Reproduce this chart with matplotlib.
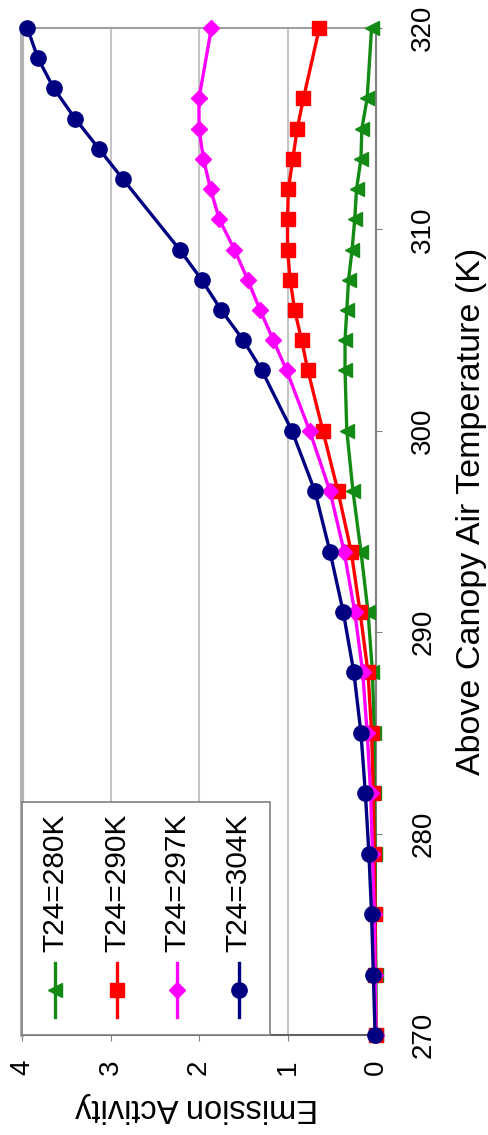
import matplotlib
matplotlib.use("Agg")
import matplotlib.pyplot as plt
from matplotlib.patches import Rectangle

plt.rcParams['font.family'] = ['Liberation Sans', 'DejaVu Sans']

# air temperature (K) for the T24 runs
temp = [270, 273, 276, 279, 282, 285, 288, 291, 294, 297, 300, 303,
        304.5, 306, 307.5, 309, 310.5, 312, 313.5, 315, 316.5, 320]
temp_304 = [270, 273, 276, 279, 282, 285, 288, 291, 294, 297, 300, 303,
            304.5, 306, 307.5, 309, 312.5, 314, 315.5, 317, 318.5, 320]

act_280 = [0.0, 0.0, 0.01, 0.01, 0.02, 0.02, 0.04, 0.09, 0.17, 0.26, 0.33, 0.35,
           0.35, 0.33, 0.31, 0.27, 0.24, 0.22, 0.17, 0.16, 0.10, 0.05]
act_290 = [0.0, 0.01, 0.01, 0.02, 0.03, 0.05, 0.09, 0.18, 0.28, 0.43, 0.60, 0.77,
           0.84, 0.92, 0.97, 1.0, 1.0, 0.99, 0.94, 0.89, 0.82, 0.64]
act_297 = [0.0, 0.01, 0.02, 0.04, 0.06, 0.10, 0.15, 0.24, 0.36, 0.52, 0.75, 1.01,
           1.16, 1.31, 1.45, 1.60, 1.77, 1.87, 1.95, 2.0, 2.0, 1.86]
act_304 = [0.01, 0.03, 0.05, 0.08, 0.12, 0.17, 0.25, 0.37, 0.52, 0.69, 0.95, 1.29,
           1.50, 1.75, 1.97, 2.22, 2.86, 3.13, 3.40, 3.64, 3.82, 3.94]

labels = ['T24=280K', 'T24=290K', 'T24=297K', 'T24=304K']
temp_ticks = [270, 280, 290, 300, 310, 320]
act_ticks = [0, 1, 2, 3, 4]

series = [
    (temp, act_280, '#138a13', '<', 10.5),
    (temp, act_290, '#ff0000', 's', 10.5),
    (temp, act_297, '#ff00ff', 'D', 8),
    (temp_304, act_304, '#000080', 'o', 11),
]

fig = plt.figure(figsize=(4.89, 11.35), dpi=100)
ax = fig.add_axes([22 / 489, 100 / 1135, 354 / 489, 1007 / 1135])

# chart is turned on its side: activity runs right-to-left, temperature bottom-to-top
for t, a, c, m, ms in series:
    ax.plot(a, t, color=c, marker=m, markersize=ms, linewidth=2.4,
            markeredgecolor=c, clip_on=False, zorder=3)

ax.set_xlim(4, 0)
ax.set_ylim(270, 320)
ax.set_xticks(act_ticks)
ax.set_yticks(temp_ticks)
ax.xaxis.grid(True, color='#c4c4c4', linewidth=1.5)
ax.set_axisbelow(True)

ax.yaxis.tick_right()
ax.tick_params(axis='y', direction='out', length=4, color='#808080',
               pad=30, labelsize=20, labelrotation=90)
ax.tick_params(axis='x', direction='out', length=4, color='#808080',
               pad=19, labelsize=20, labelrotation=90)
for lab in ax.get_yticklabels():
    lab.set_horizontalalignment('center')
    lab.set_verticalalignment('center')
for lab in ax.get_xticklabels():
    lab.set_horizontalalignment('center')
    lab.set_verticalalignment('center')

ax.spines['left'].set_color('#b4b4b4')
ax.spines['left'].set_linewidth(3)
ax.spines['top'].set_color('#a0a0a0')
ax.spines['top'].set_linewidth(1.5)
ax.spines['right'].set_color('#808080')
ax.spines['right'].set_linewidth(1.5)
ax.spines['bottom'].set_color('#606060')
ax.spines['bottom'].set_linewidth(1.5)

fig.text(197 / 489, 1 - 1107 / 1135, 'Emission Activity', rotation=180,
         ha='center', va='center', fontsize=23.5)
fig.text(472 / 489, 1 - 511 / 1135, 'Above Canopy Air Temperature (K)',
         rotation=90, ha='center', va='center', fontsize=24.5)

# legend box, drawn by hand so the entries can be rotated
ax.add_patch(Rectangle((0, 0), 0.70, 0.2314, transform=ax.transAxes,
                       facecolor='white', edgecolor='#808080', linewidth=1.2,
                       zorder=4, clip_on=False))
leg_x = [0.094, 0.269, 0.439, 0.612]
for (t, a, c, m, ms), lx, lab in zip(series, leg_x, labels):
    ax.plot([lx, lx], [0.018, 0.0715], color=c, linewidth=2.4,
            transform=ax.transAxes, zorder=5, clip_on=False)
    ax.plot([lx], [0.0447], color=c, marker=m, markersize=ms,
            transform=ax.transAxes, zorder=5, clip_on=False)
    ax.text(lx, 0.082, lab, rotation=90, ha='center', va='bottom',
            fontsize=21.5, transform=ax.transAxes, zorder=6)

fig.savefig('out.png', dpi=100)
